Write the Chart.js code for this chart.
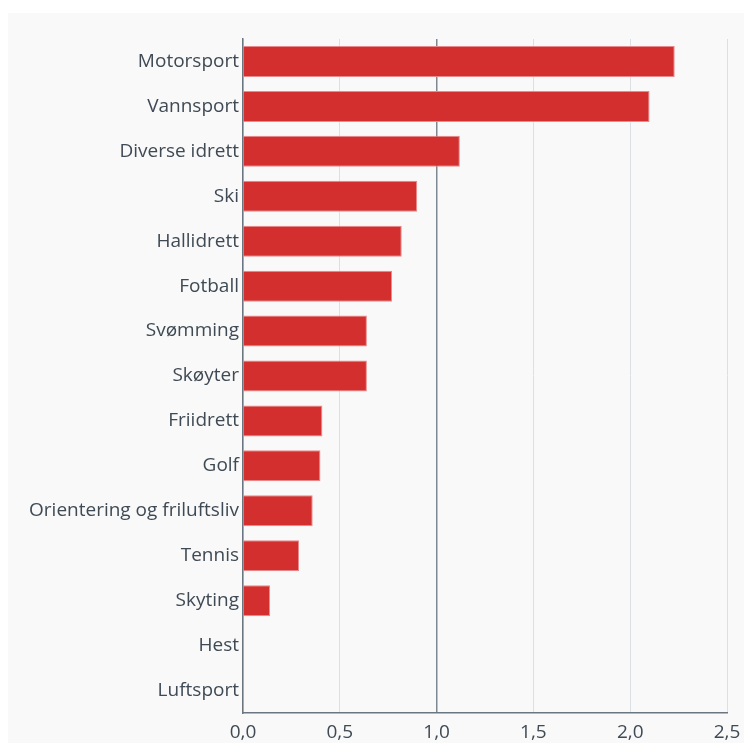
<!DOCTYPE html>
<html lang="no">
<head>
    <meta charset="UTF-8">
    <title>Idrett</title>
    <script src="https://cdn.jsdelivr.net/npm/chart.js"></script>
    <style>
        html, body {
            margin: 0;
            padding: 0;
            background: #ffffff;
        }

        #panel {
            position: absolute;
            left: 8px;
            top: 13px;
            width: 736px;
            height: 730px;
            background: #f9f9f9;
        }

        #sportCanvas {
            display: block;
        }
    </style>
</head>
<body>
<div id="panel">
    <canvas id="sportCanvas" width="736" height="730"></canvas>
</div>

<script>
    // Kategorier og verdier lest av figuren
    const categories = [
        'Motorsport', 'Vannsport', 'Diverse idrett', 'Ski', 'Hallidrett',
        'Fotball', 'Svømming', 'Skøyter', 'Friidrett', 'Golf',
        'Orientering og friluftsliv', 'Tennis', 'Skyting', 'Hest', 'Luftsport'
    ];
    const values = [2.23, 2.10, 1.12, 0.90, 0.82, 0.77, 0.64, 0.64, 0.41, 0.40, 0.36, 0.29, 0.14, 0, 0];
    const xTicks = [0, 0.5, 1, 1.5, 2, 2.5];

    const textColor = '#3f4a54';

    function formatTick(v) {
        return v.toFixed(1).replace('.', ',');
    }

    const ctx = document.getElementById('sportCanvas').getContext('2d');
    new Chart(ctx, {
        type: 'bar',
        data: {
            labels: categories,
            datasets: [{
                data: values,
                backgroundColor: '#d32f2f',
                borderColor: '#e88a8c',
                borderWidth: 1,
                borderSkipped: 'left',
                barPercentage: 0.69,
                categoryPercentage: 1
            }]
        },
        options: {
            indexAxis: 'y',
            responsive: false,
            animation: false,
            layout: {
                padding: {top: 26, right: 17, bottom: 0, left: 0}
            },
            plugins: {
                legend: {display: false},
                tooltip: {enabled: false}
            },
            scales: {
                x: {
                    min: 0,
                    max: 2.5,
                    afterBuildTicks: axis => {
                        axis.ticks = xTicks.map(v => ({value: v}));
                    },
                    afterFit: axis => {
                        axis.height = 30;
                        axis.paddingLeft = 0;
                        axis.paddingRight = 0;
                    },
                    grid: {
                        drawTicks: false,
                        color: c => (c.tick && c.tick.value === 1) ? '#7d8891' : '#dbe0e4',
                        lineWidth: c => (c.tick && c.tick.value === 1) ? 1.5 : 1
                    },
                    border: {
                        color: '#6b7680',
                        width: 1.5
                    },
                    ticks: {
                        padding: 8,
                        color: textColor,
                        font: {family: 'Open Sans', size: 19},
                        callback: v => formatTick(v)
                    }
                },
                y: {
                    afterFit: axis => {
                        axis.width = 235;
                        axis.paddingTop = 0;
                        axis.paddingBottom = 0;
                    },
                    grid: {display: false, drawTicks: false},
                    border: {
                        color: '#6b7680',
                        width: 1.5
                    },
                    ticks: {
                        padding: 4,
                        color: textColor,
                        font: {family: 'Open Sans', size: 19}
                    }
                }
            }
        }
    });
</script>
</body>
</html>
